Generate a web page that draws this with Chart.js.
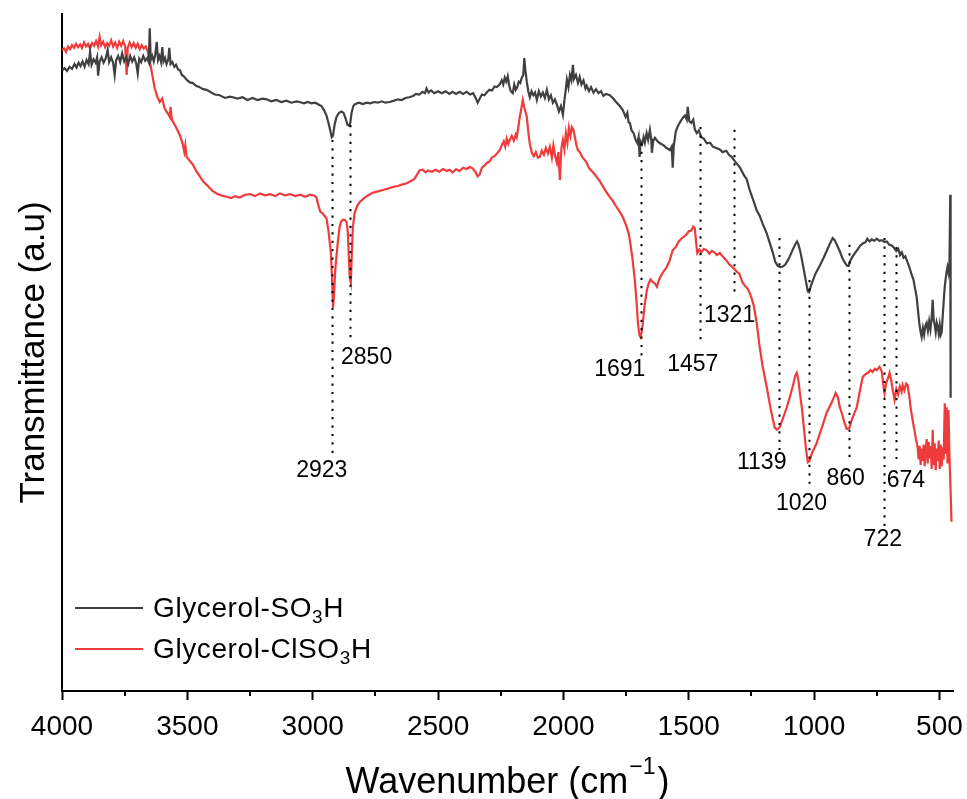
<!DOCTYPE html>
<html><head><meta charset="utf-8">
<script src="https://cdn.jsdelivr.net/npm/chart.js@4.4.1/dist/chart.umd.min.js"></script>
<style>html,body{margin:0;padding:0;background:#fff;}#wrap{width:967px;height:799px;position:relative;}</style>
</head><body><div id="wrap"><canvas id="c" width="967" height="799"></canvas></div>
<script>
const seriesNames = ['Glycerol-SO3H', 'Glycerol-ClSO3H'];
const seriesColors = ['#404040', '#ef3b3b'];
const xTickValues = [4000, 3500, 3000, 2500, 2000, 1500, 1000, 500];
const xMinorTickValues = [3750, 3250, 2750, 2250, 1750, 1250, 750];
const peakWavenumbers = [2923, 2850, 1691, 1457, 1321, 1139, 1020, 860, 722, 674];
const peakLabels = ['2923', '2850', '1691', '1457', '1321', '1139', '1020', '860', '722', '674'];
const peakLineTop = [81.4, 83.6, 80.9, 83.3, 82.9, 66.9, 60.7, 65.9, 66.9, 65.6];
const peakLineBottom = [34.9, 51.6, 49.2, 51.6, 58.5, 35.6, 29.7, 34.4, 24.2, 33.8];
const peakLabelX = [2964, 2785, 1775, 1484, 1337, 1209, 1050, 874, 726, 634];
const peakLabelY = [32.6, 49.3, 47.4, 48.2, 55.5, 33.7, 27.6, 31.3, 22.3, 31.0];

// Glycerol-SO3H : [wavenumber, transmittance]
const so3hPoints = [
[4000,91.6],[3990,92.0],[3980,91.6],[3970,92.2],[3960,91.9],[3950,92.6],[3942,92.1],[3934,92.8],[3926,92.3],[3918,93.0],
[3910,92.2],[3902,93.2],[3894,92.6],[3888,94.4],[3882,92.5],[3874,93.3],[3866,92.8],[3860,93.6],[3856,90.9],[3850,93.0],
[3842,93.6],[3834,92.8],[3826,93.4],[3818,94.7],[3812,92.9],[3804,93.6],[3796,92.8],[3790,91.0],[3784,93.2],[3776,93.8],
[3768,92.9],[3760,94.2],[3752,93.0],[3744,93.6],[3736,92.6],[3728,93.8],[3720,93.0],[3712,93.6],[3704,92.7],[3698,91.2],
[3692,93.4],[3684,92.9],[3676,93.8],[3668,93.1],[3660,93.5],[3654,92.9],[3650,97.9],[3646,93.2],[3640,93.8],[3634,93.0],
[3628,94.0],[3622,95.9],[3617,93.2],[3611,93.8],[3605,92.9],[3600,95.1],[3595,93.0],[3589,93.5],[3583,92.6],[3576,93.3],
[3572,95.0],[3567,92.6],[3560,92.9],[3552,92.2],[3545,92.5],[3537,91.8],[3530,91.7],[3522,91.0],[3514,90.8],[3503,90.3],
[3490,89.9],[3478,89.8],[3465,89.4],[3451,89.2],[3438,88.9],[3423,88.8],[3405,88.4],[3390,88.1],[3371,88.0],[3350,87.6],
[3330,87.8],[3319,87.7],[3300,87.5],[3280,87.7],[3260,87.3],[3240,87.6],[3220,87.3],[3200,87.5],[3184,87.4],[3165,87.1],
[3145,87.3],[3125,87.0],[3105,87.2],[3085,86.9],[3065,87.1],[3052,87.0],[3035,86.8],[3020,87.0],[3005,86.8],[2990,86.9],
[2975,86.6],[2965,86.4],[2955,85.8],[2945,85.0],[2937,83.9],[2930,82.8],[2924,81.8],[2919,82.0],[2913,83.6],[2905,84.8],
[2895,85.4],[2885,85.6],[2877,85.4],[2869,84.6],[2861,83.6],[2855,83.5],[2850,83.9],[2845,85.4],[2838,86.4],[2830,86.7],
[2815,86.9],[2800,86.7],[2785,86.9],[2770,86.8],[2755,87.0],[2740,86.9],[2725,87.1],[2710,86.9],[2693,87.0],[2675,87.2],
[2660,87.4],[2645,87.3],[2630,87.6],[2615,87.7],[2600,87.9],[2588,88.2],[2575,88.1],[2562,88.5],[2552,88.3],[2546,89.0],
[2538,88.4],[2528,88.7],[2515,88.3],[2500,88.6],[2485,88.3],[2470,88.6],[2455,88.2],[2442,88.5],[2428,88.2],[2414,88.5],
[2400,88.2],[2386,88.5],[2372,88.1],[2360,88.3],[2350,87.6],[2342,86.9],[2335,87.4],[2325,88.1],[2315,88.0],[2306,88.4],
[2295,88.8],[2285,88.7],[2275,89.3],[2265,89.2],[2254,89.6],[2246,90.2],[2240,89.6],[2234,90.6],[2228,90.0],[2222,90.8],
[2216,89.4],[2210,88.6],[2202,88.3],[2196,89.6],[2190,88.8],[2184,89.2],[2178,90.0],[2172,89.8],[2166,90.6],[2160,91.0],
[2156,93.5],[2152,91.8],[2146,90.0],[2140,88.6],[2134,87.7],[2127,88.6],[2120,88.0],[2113,88.4],[2106,87.3],[2098,88.6],
[2090,87.8],[2082,88.4],[2074,87.6],[2066,88.8],[2058,87.4],[2050,88.0],[2042,86.9],[2034,87.4],[2026,86.6],[2018,85.6],
[2010,86.4],[2002,85.1],[1996,87.2],[1990,89.0],[1986,90.3],[1980,89.2],[1974,91.0],[1968,90.2],[1962,92.5],[1958,90.4],
[1950,91.0],[1942,89.8],[1935,90.7],[1928,89.6],[1920,90.2],[1912,89.0],[1907,89.4],[1898,88.6],[1890,89.2],[1880,88.4],
[1870,88.9],[1860,88.3],[1850,88.6],[1840,87.9],[1830,88.2],[1815,88.0],[1803,87.6],[1790,87.0],[1775,86.4],[1763,85.8],
[1752,84.8],[1745,85.4],[1740,84.0],[1735,83.9],[1728,82.8],[1720,82.4],[1712,81.4],[1705,80.9],[1700,81.8],[1696,78.9],
[1692,81.2],[1686,80.8],[1680,81.8],[1675,81.0],[1668,82.4],[1662,81.4],[1655,82.9],[1650,81.6],[1647,79.5],[1642,81.2],
[1635,81.7],[1625,81.2],[1615,80.9],[1600,80.6],[1588,80.2],[1575,79.9],[1568,80.4],[1564,77.3],[1560,80.4],[1552,82.6],
[1545,83.3],[1535,84.0],[1525,84.6],[1515,85.0],[1508,84.4],[1504,86.3],[1498,84.2],[1490,83.9],[1482,84.4],[1476,83.0],
[1468,82.4],[1460,82.8],[1450,81.8],[1440,81.6],[1428,80.9],[1415,81.0],[1404,80.4],[1390,80.2],[1376,80.0],[1365,79.6],
[1350,79.8],[1340,79.2],[1329,78.9],[1315,78.2],[1297,77.4],[1280,76.2],[1269,75.6],[1257,74.0],[1240,72.2],[1229,71.0],
[1217,70.2],[1205,69.0],[1189,67.6],[1177,66.2],[1165,64.8],[1155,63.4],[1145,62.8],[1135,62.6],[1125,62.7],[1115,63.0],
[1105,63.6],[1097,64.2],[1085,65.2],[1075,66.0],[1068,66.4],[1062,65.9],[1055,64.9],[1048,63.6],[1040,62.0],[1032,60.4],
[1025,59.0],[1020,58.9],[1013,59.8],[1005,60.6],[995,61.6],[985,62.3],[975,63.0],[962,64.0],[950,65.0],[938,66.0],
[926,66.9],[918,66.6],[908,65.8],[898,65.0],[888,64.0],[878,63.3],[868,62.8],[862,62.8],[855,63.6],[846,64.2],
[835,64.8],[825,65.3],[818,65.7],[806,66.1],[795,66.3],[788,66.8],[779,66.4],[770,66.7],[760,66.5],[750,66.8],
[740,66.5],[730,66.6],[720,66.3],[710,66.4],[700,65.9],[690,65.8],[680,65.4],[672,65.0],[664,65.3],[657,64.4],
[650,64.8],[643,64.0],[636,64.2],[628,63.4],[620,62.6],[612,61.6],[604,60.8],[596,59.2],[591,58.2],[585,56.0],
[580,54.2],[575,53.0],[571,52.3],[566,53.6],[561,52.6],[556,54.0],[551,54.4],[546,53.2],[541,54.6],[536,53.4],
[531,55.2],[527,57.8],[523,54.8],[519,54.0],[515,53.0],[511,54.4],[507,53.8],[503,52.8],[499,54.0],[495,52.6],
[491,53.0],[487,55.4],[483,57.6],[479,59.7],[475,61.0],[471,62.0],[468,62.6],[464,61.8],[460,63.4],[457,73.3],
[456,58.0],[455,43.3]
];

// Glycerol-ClSO3H : [wavenumber, transmittance]
const clso3hPoints = [
[4000,94.6],[3992,94.9],[3984,94.4],[3976,95.2],[3968,94.8],[3960,95.4],[3952,95.0],[3944,95.6],[3936,95.1],[3928,95.5],
[3920,95.0],[3912,95.8],[3904,95.2],[3896,95.6],[3888,94.9],[3880,95.7],[3872,95.3],[3864,96.0],[3856,95.2],[3850,96.6],
[3844,95.4],[3836,95.9],[3828,95.1],[3820,95.7],[3812,95.3],[3804,96.1],[3796,95.2],[3788,95.8],[3780,95.0],[3772,95.9],
[3764,95.3],[3756,96.0],[3748,95.2],[3742,91.0],[3738,95.0],[3730,95.8],[3722,95.1],[3714,95.7],[3706,95.0],[3698,95.6],
[3690,94.8],[3682,95.4],[3674,94.9],[3666,95.2],[3658,94.5],[3650,93.1],[3640,91.0],[3630,89.0],[3620,87.8],[3610,87.0],
[3600,87.5],[3592,86.2],[3584,85.6],[3576,85.2],[3570,84.8],[3567,86.3],[3562,84.4],[3550,83.6],[3540,82.9],[3530,82.1],
[3520,81.0],[3512,79.6],[3508,80.6],[3503,78.9],[3490,78.3],[3477,77.7],[3463,76.7],[3450,76.0],[3436,75.2],[3424,74.8],
[3411,74.3],[3397,73.8],[3383,73.5],[3365,73.2],[3343,73.0],[3325,72.8],[3310,73.1],[3291,72.9],[3270,73.3],[3251,73.4],
[3230,73.1],[3210,73.5],[3190,73.2],[3170,73.4],[3150,73.1],[3130,73.5],[3110,73.2],[3090,73.4],[3070,73.1],[3050,73.3],
[3030,73.0],[3010,73.3],[2995,73.2],[2985,72.9],[2978,71.8],[2970,70.8],[2962,70.6],[2953,70.2],[2945,69.8],[2938,68.2],
[2933,66.6],[2927,64.5],[2922,60.0],[2919,56.6],[2915,58.5],[2910,62.2],[2905,64.3],[2899,66.6],[2893,68.5],[2887,69.3],
[2881,69.6],[2872,69.6],[2865,69.3],[2860,67.8],[2856,64.1],[2852,61.0],[2848,60.3],[2844,64.5],[2840,68.4],[2833,70.6],
[2823,71.6],[2813,72.2],[2795,72.8],[2780,73.2],[2761,73.6],[2740,73.8],[2720,74.0],[2700,74.2],[2693,74.3],[2675,74.5],
[2660,74.6],[2645,74.8],[2625,75.0],[2610,75.3],[2595,75.6],[2585,76.2],[2574,76.9],[2562,77.0],[2550,76.6],[2540,76.9],
[2525,76.7],[2510,77.0],[2495,76.7],[2480,77.1],[2465,76.8],[2454,77.0],[2442,76.6],[2428,77.1],[2415,76.8],[2400,77.3],
[2386,77.1],[2374,77.4],[2362,77.2],[2350,76.6],[2342,76.0],[2334,76.3],[2325,77.3],[2315,77.6],[2306,78.0],[2295,78.2],
[2285,78.8],[2275,79.0],[2265,79.4],[2254,79.9],[2246,80.6],[2238,81.2],[2232,80.4],[2226,81.6],[2220,80.8],[2214,81.4],
[2206,82.0],[2198,81.3],[2190,82.2],[2186,81.8],[2180,83.2],[2174,84.8],[2168,86.0],[2162,87.3],[2156,86.2],[2150,85.4],
[2146,84.8],[2140,82.6],[2134,80.8],[2126,79.5],[2118,79.0],[2110,79.6],[2102,78.8],[2094,78.9],[2086,79.8],[2078,79.2],
[2070,80.2],[2062,79.4],[2054,80.4],[2046,78.8],[2040,80.6],[2034,79.2],[2026,78.0],[2020,79.6],[2014,75.5],[2008,80.2],
[2002,81.4],[1996,80.0],[1990,82.4],[1984,81.0],[1978,83.2],[1972,82.0],[1966,83.3],[1960,82.9],[1954,81.8],[1948,80.6],
[1942,79.9],[1935,79.6],[1925,78.9],[1916,78.5],[1907,78.0],[1897,77.2],[1887,76.8],[1877,76.4],[1867,75.9],[1855,75.3],
[1840,74.4],[1827,73.6],[1815,73.0],[1803,72.4],[1790,71.6],[1777,70.9],[1763,70.0],[1750,68.8],[1740,67.6],[1735,66.6],
[1725,64.0],[1715,60.7],[1708,57.4],[1703,54.4],[1697,52.6],[1693,52.3],[1688,53.0],[1683,54.4],[1676,57.0],[1667,59.2],
[1660,60.2],[1652,60.8],[1643,60.4],[1635,60.2],[1627,59.7],[1620,60.6],[1610,61.4],[1600,62.0],[1588,62.6],[1576,63.6],
[1564,65.1],[1552,65.6],[1540,66.4],[1530,66.8],[1520,67.1],[1510,67.4],[1500,67.9],[1490,68.0],[1482,68.6],[1476,68.4],
[1470,66.0],[1466,64.7],[1458,65.2],[1450,64.8],[1440,65.3],[1428,65.1],[1418,64.6],[1408,65.0],[1398,64.8],[1388,64.4],
[1376,64.7],[1365,64.2],[1350,63.6],[1338,63.0],[1325,62.6],[1310,62.0],[1298,61.6],[1285,60.3],[1275,59.8],[1265,59.4],
[1257,58.8],[1249,58.0],[1240,56.8],[1229,54.4],[1217,50.8],[1205,47.9],[1189,44.9],[1175,42.0],[1165,40.2],[1157,38.9],
[1148,38.6],[1137,39.0],[1125,40.2],[1110,41.8],[1097,43.4],[1085,45.0],[1075,46.6],[1069,47.0],[1063,46.0],[1056,43.8],
[1049,41.9],[1040,38.6],[1032,35.6],[1025,33.8],[1018,34.0],[1008,35.2],[990,36.6],[970,38.8],[950,41.1],[930,42.6],
[914,44.0],[905,43.4],[898,42.0],[890,41.1],[880,39.8],[870,38.7],[860,38.8],[850,40.0],[840,41.0],[830,41.9],
[818,44.2],[806,46.4],[795,46.8],[785,47.0],[775,47.4],[767,47.1],[758,47.6],[750,47.4],[739,47.9],[730,47.2],
[724,45.2],[719,44.0],[712,45.6],[705,46.2],[699,47.0],[692,45.8],[686,44.4],[679,43.0],[672,44.6],[665,43.8],
[658,45.0],[651,44.2],[647,45.2],[640,44.4],[633,45.4],[627,45.2],[620,43.4],[614,41.6],[607,40.0],[600,38.6],
[594,37.2],[587,36.0],[583,34.2],[579,36.2],[575,33.4],[571,35.8],[567,34.0],[563,36.4],[559,33.2],[555,35.6],
[551,37.2],[547,33.6],[543,36.8],[539,34.4],[535,36.2],[531,32.8],[527,38.6],[523,33.4],[519,36.6],[515,32.6],
[511,35.8],[507,34.0],[503,37.0],[499,32.8],[495,36.4],[491,33.2],[487,36.0],[483,34.2],[479,42.5],[475,35.0],
[471,41.9],[468,33.6],[464,41.5],[460,34.6],[456,30.0],[452,25.0]
];

const FONT = '"Liberation Sans", Arial, Helvetica, sans-serif';

function richParts(text) {
  const parts = [];
  const re = /(\d+)/g;
  let last = 0, m;
  while ((m = re.exec(text)) !== null) {
    if (m.index > last) parts.push({t: text.slice(last, m.index), sub: false});
    parts.push({t: m[1], sub: true});
    last = m.index + m[1].length;
  }
  if (last < text.length) parts.push({t: text.slice(last), sub: false});
  return parts;
}

const decorPlugin = {
  id: 'decor',
  afterDatasetsDraw(chart) {
    const ctx = chart.ctx;
    const xs = chart.scales.x, ys = chart.scales.y;
    ctx.save();
    ctx.strokeStyle = '#000';
    ctx.lineWidth = 2;
    ctx.setLineDash([2.2, 6.2]);
    peakWavenumbers.forEach((w, i) => {
      const px = Math.round(xs.getPixelForValue(w)) + 0.5;
      ctx.beginPath();
      ctx.moveTo(px, ys.getPixelForValue(peakLineTop[i]));
      ctx.lineTo(px, ys.getPixelForValue(peakLineBottom[i]));
      ctx.stroke();
    });
    ctx.setLineDash([]);
    ctx.fillStyle = '#000';
    ctx.font = '23px ' + FONT;
    ctx.textAlign = 'center';
    ctx.textBaseline = 'middle';
    peakLabels.forEach((lab, i) => {
      ctx.fillText(lab, xs.getPixelForValue(peakLabelX[i]), ys.getPixelForValue(peakLabelY[i]));
    });
    ctx.restore();
  },
  afterDraw(chart) {
    const ctx = chart.ctx;
    const xs = chart.scales.x;
    const area = chart.chartArea;
    ctx.save();
    ctx.strokeStyle = '#000';
    ctx.lineWidth = 2;
    xMinorTickValues.forEach(v => {
      const px = Math.round(xs.getPixelForValue(v));
      ctx.beginPath();
      ctx.moveTo(px, area.bottom);
      ctx.lineTo(px, area.bottom + 5);
      ctx.stroke();
    });
    // legend
    const lx = area.left + 13, lx2 = area.left + 81, tx = area.left + 91;
    const rows = [area.bottom - 83, area.bottom - 42];
    chart.data.datasets.forEach((ds, i) => {
      const y = rows[i];
      ctx.strokeStyle = ds.borderColor;
      ctx.lineWidth = 2;
      ctx.beginPath();
      ctx.moveTo(lx, y); ctx.lineTo(lx2, y); ctx.stroke();
      let x = tx;
      ctx.fillStyle = '#000';
      ctx.textAlign = 'left';
      ctx.textBaseline = 'alphabetic';
      try { ctx.letterSpacing = '0.6px'; } catch (e) {}
      richParts(ds.label).forEach(p => {
        if (p.sub) {
          ctx.font = '19px ' + FONT;
          ctx.fillText(p.t, x, y + 9 + 6);
        } else {
          ctx.font = '28px ' + FONT;
          ctx.fillText(p.t, x, y + 9);
        }
        x += ctx.measureText(p.t).width;
      });
      try { ctx.letterSpacing = '0px'; } catch (e) {}
    });
    // y axis title
    ctx.fillStyle = '#000';
    ctx.font = '35px ' + FONT;
    ctx.textAlign = 'center';
    ctx.textBaseline = 'alphabetic';
    ctx.save();
    ctx.translate(44, (area.top + area.bottom) / 2);
    ctx.rotate(-Math.PI / 2);
    ctx.fillText('Transmittance (a.u)', 0, 0);
    ctx.restore();
    // x axis title with superscript
    const p1 = 'Wavenumber (cm', sup = '\u22121', p3 = ')';
    ctx.font = '36px ' + FONT;
    const w1 = ctx.measureText(p1).width, w3 = ctx.measureText(p3).width;
    ctx.font = '23px ' + FONT;
    const w2 = ctx.measureText(sup).width;
    let x0 = (area.left + area.right) / 2 - (w1 + w2 + w3 + 3) / 2;
    const by = 793;
    ctx.textAlign = 'left';
    ctx.font = '36px ' + FONT;
    ctx.fillText(p1, x0, by);
    ctx.font = '23px ' + FONT;
    ctx.fillText(sup, x0 + w1 + 1, by - 19);
    ctx.font = '36px ' + FONT;
    ctx.fillText(p3, x0 + w1 + w2 + 3, by);
    ctx.restore();
  }
};

const toXY = pts => pts.map(p => ({x: p[0], y: p[1]}));

new Chart(document.getElementById('c'), {
  type: 'line',
  data: {
    datasets: [
      {label: seriesNames[0], data: toXY(so3hPoints), borderColor: seriesColors[0], borderWidth: 2.2, pointRadius: 0, tension: 0},
      {label: seriesNames[1], data: toXY(clso3hPoints), borderColor: seriesColors[1], borderWidth: 2.2, pointRadius: 0, tension: 0}
    ]
  },
  options: {
    responsive: false,
    animation: false,
    devicePixelRatio: 1,
    layout: {padding: {top: 14, right: 14, left: 0, bottom: 0}},
    plugins: {legend: {display: false}, tooltip: {enabled: false}},
    scales: {
      x: {
        type: 'linear', reverse: true, min: 446, max: 4000,
        afterBuildTicks: s => { s.ticks = xTickValues.map(v => ({value: v})); },
        afterFit: s => { s.height = 108; s.paddingLeft = 0; s.paddingRight = 0; },
        ticks: {autoSkip: false, maxRotation: 0, padding: 10, color: '#000', font: {size: 28, family: FONT},
                callback: v => String(v)},
        grid: {display: true, drawOnChartArea: false, drawTicks: true, tickLength: 9, tickWidth: 2, tickColor: '#000'},
        border: {display: true, color: '#000', width: 2}
      },
      y: {
        min: 0, max: 100,
        afterFit: s => { s.width = 62; s.paddingTop = 0; s.paddingBottom = 0; },
        ticks: {display: false},
        grid: {display: false},
        border: {display: true, color: '#000', width: 2}
      }
    }
  },
  plugins: [decorPlugin]
});
</script></body></html>
